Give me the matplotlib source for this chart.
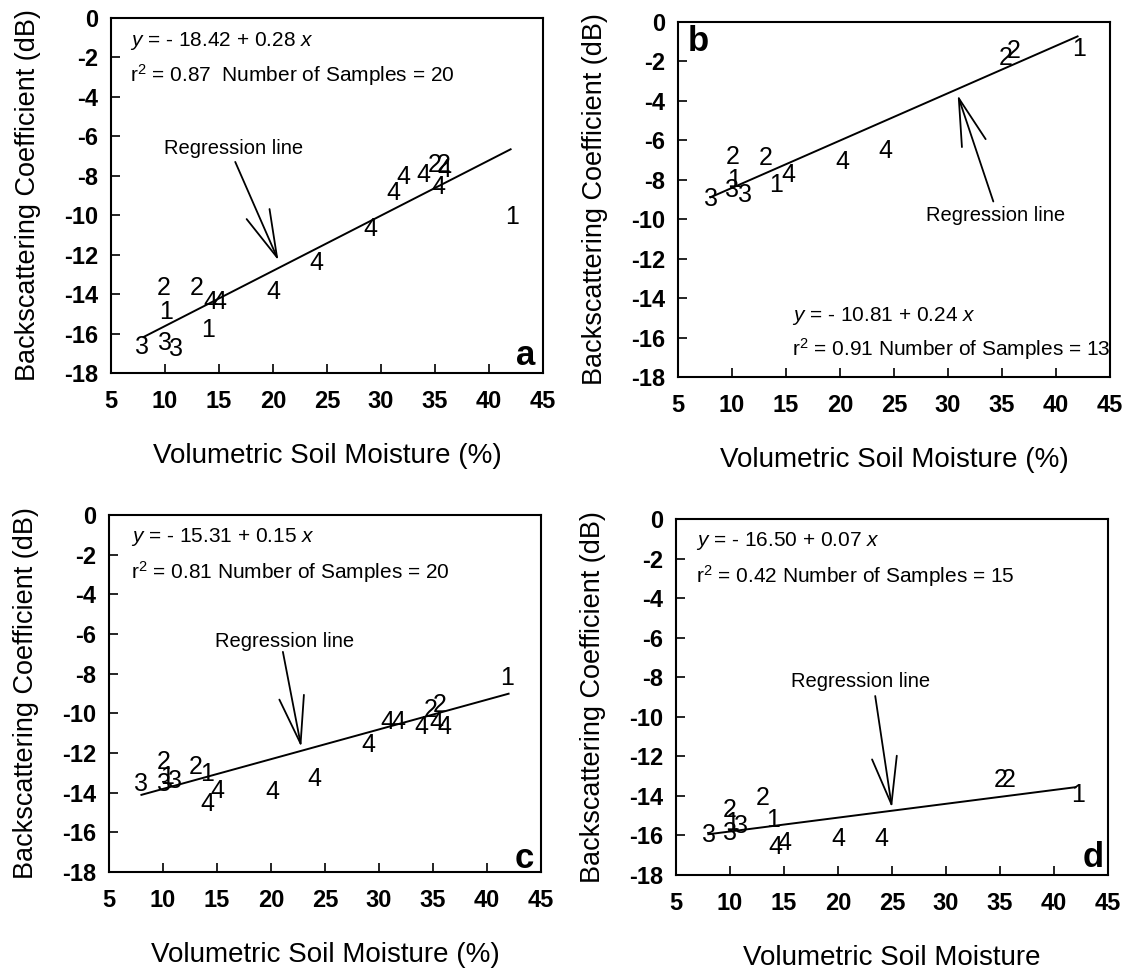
import matplotlib
matplotlib.use('Agg')
import matplotlib.pyplot as plt

plt.rcParams['font.family'] = ['Liberation Sans', 'DejaVu Sans']
plt.rcParams['axes.unicode_minus'] = False
plt.rcParams['mathtext.fontset'] = 'custom'
plt.rcParams['mathtext.rm'] = 'Liberation Sans'
plt.rcParams['mathtext.it'] = 'Liberation Sans:italic'

# soil moisture (%), backscatter (dB) and site label for every sample
moist_a = [7.9, 10.0, 11.0, 9.9, 10.1, 12.9, 14.2, 15.0, 14.0, 20.0,
           24.0, 29.0, 31.1, 32.1, 33.9, 35.0, 35.8, 35.9, 35.3, 42.1]
sigma_a = [-16.7, -16.5, -16.8, -13.7, -14.9, -13.7, -14.4, -14.4, -15.8, -13.9,
           -12.4, -10.7, -8.9, -8.05, -7.95, -7.45, -7.45, -7.7, -8.55, -10.1]
site_a = ['3', '3', '3', '2', '1', '2', '4', '4', '1', '4',
          '4', '4', '4', '4', '4', '2', '2', '4', '4', '1']

moist_b = [8.1, 10.0, 11.2, 10.1, 10.2, 13.1, 14.1, 15.2, 20.2, 24.2, 35.3, 36.1, 42.1]
sigma_b = [-8.95, -8.5, -8.75, -6.85, -8.0, -6.9, -8.25, -7.75, -7.1, -6.55, -1.8, -1.45, -1.35]
site_b = ['3', '3', '3', '2', '1', '2', '1', '4', '4', '4', '2', '2', '1']

moist_c = [8.0, 10.1, 11.1, 10.4, 10.1, 13.0, 14.1, 15.0, 14.1, 20.1,
           24.0, 29.0, 30.8, 31.8, 33.9, 35.3, 36.1, 34.8, 35.6, 41.9]
sigma_c = [-13.55, -13.55, -13.4, -13.2, -12.45, -12.7, -13.05, -13.9, -14.55, -13.95,
           -13.3, -11.6, -10.45, -10.45, -10.7, -10.5, -10.7, -9.85, -9.6, -8.2]
site_c = ['3', '3', '3', '1', '2', '2', '1', '4', '4', '4',
          '4', '4', '4', '4', '4', '4', '4', '2', '2', '1']

moist_d = [8.1, 10.0, 11.0, 10.2, 10.0, 13.0, 14.0, 14.2, 15.0, 20.05, 24.0, 35.05, 35.8, 42.2]
sigma_d = [-15.97, -15.9, -15.5, -15.35, -14.7, -14.1, -15.2, -16.6, -16.4, -16.2, -16.2, -13.2, -13.2, -13.95]
site_d = ['3', '3', '3', '1', '2', '2', '1', '4', '4', '4', '4', '2', '2', '1']

intercepts = [-18.42, -10.81, -15.31, -16.50]
slopes = [0.28, 0.24, 0.15, 0.07]
eq_texts = ['$y$ = - 18.42 + 0.28 $x$', '$y$ = - 10.81 + 0.24 $x$',
            '$y$ = - 15.31 + 0.15 $x$', '$y$ = - 16.50 + 0.07 $x$']
stat_texts = ['r$^2$ = 0.87  Number of Samples = 20', 'r$^2$ = 0.91 Number of Samples = 13',
              'r$^2$ = 0.81 Number of Samples = 20', 'r$^2$ = 0.42 Number of Samples = 15']
panel_letters = ['a', 'b', 'c', 'd']
xlabels = ['Volumetric Soil Moisture (%)', 'Volumetric Soil Moisture (%)',
           'Volumetric Soil Moisture (%)', 'Volumetric Soil Moisture']

moist = [moist_a, moist_b, moist_c, moist_d]
sigma = [sigma_a, sigma_b, sigma_c, sigma_d]
sites = [site_a, site_b, site_c, site_d]

# annotation placement per panel (data coords)
eq_pos = [(6.75, -1.15, -2.9), (15.6, -14.9, -16.6), (7.0, -1.12, -2.88), (6.85, -1.1, -2.9)]
reg_text = [(16.3, -6.6), (34.4, -9.8), (21.3, -6.4), (22.1, -8.2)]
arrow_tail = [(16.5, -7.3), (34.2, -9.1), (21.1, -6.9), (23.45, -8.95)]
arrow_head = [(20.5, -12.3), (30.9, -3.7), (22.8, -11.7), (25.0, -14.6)]
letter_pos = [(43.4, -17.1), (6.85, -1.0), (43.5, -17.3), (43.6, -17.1)]

fig = plt.figure(figsize=(11.24, 9.69), dpi=100)
rects = [[0.0988, 0.6151, 0.3843, 0.3664],
         [0.6032, 0.6109, 0.3843, 0.3664],
         [0.0970, 0.1001, 0.3843, 0.3684],
         [0.6014, 0.0970, 0.3843, 0.3674]]

for i in range(4):
    ax = fig.add_axes(rects[i])
    ax.set_xlim(5, 45)
    ax.set_ylim(-18, 0)
    ax.set_xticks(range(5, 46, 5))
    ax.set_yticks(range(-18, 1, 2))
    ax.tick_params(direction='in', length=6.5, width=1.2, labelsize=17)
    ax.tick_params(axis='x', pad=12)
    ax.tick_params(axis='y', pad=9)
    for lab in ax.get_xticklabels() + ax.get_yticklabels():
        lab.set_fontweight('bold')
    for sp in ax.spines.values():
        sp.set_linewidth(1.5)
    ax.set_xlabel(xlabels[i], fontsize=20, labelpad=22)
    ax.set_ylabel('Backscattering Coefficient (dB)', fontsize=19.5, labelpad=17)

    # regression line
    xs = [8, 42]
    ys = [intercepts[i] + slopes[i] * v for v in xs]
    ax.plot(xs, ys, color='black', lw=1.4)

    # samples drawn as site numbers
    for xv, yv, s in zip(moist[i], sigma[i], sites[i]):
        ax.text(xv, yv, s, fontsize=18, ha='center', va='center')

    ex, ey1, ey2 = eq_pos[i]
    ax.text(ex, ey1, eq_texts[i], fontsize=15, ha='left', va='center')
    ax.text(ex, ey2, stat_texts[i], fontsize=15, ha='left', va='center')

    ax.text(reg_text[i][0], reg_text[i][1], 'Regression line', fontsize=14.5,
            ha='center', va='center')
    ax.annotate('', xy=arrow_head[i], xytext=arrow_tail[i],
                arrowprops=dict(arrowstyle='->,head_length=1.7,head_width=0.45',
                                color='black', lw=1.3, mutation_scale=20,
                                shrinkA=0, shrinkB=0))

    ax.text(letter_pos[i][0], letter_pos[i][1], panel_letters[i], fontsize=25,
            fontweight='bold', ha='center', va='center')

fig.savefig('out.png', dpi=100)
